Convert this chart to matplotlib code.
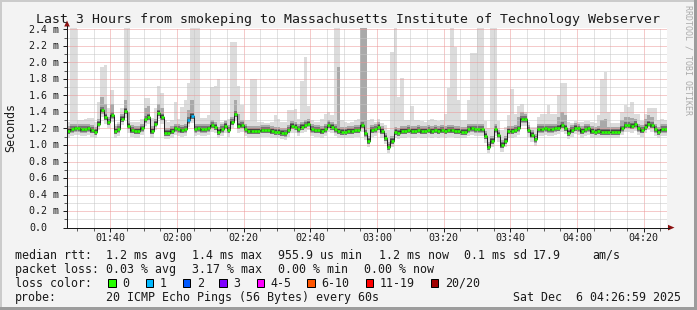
import numpy as np
import matplotlib
matplotlib.use("Agg")
import matplotlib.pyplot as plt
from matplotlib.patches import Rectangle, Polygon
from matplotlib.lines import Line2D
import matplotlib.transforms as mtransforms

# ---------------- data ----------------
title = "Last 3 Hours from smokeping to Massachusetts Institute of Technology Webserver"
start_time = "01:27"          # time at the left edge of the graph (one step = 1 minute)
time_labels = ["01:40", "02:00", "02:20", "02:40", "03:00", "03:20", "03:40", "04:00", "04:20"]
y_ticks = [0.0, 0.2, 0.4, 0.6, 0.8, 1.0, 1.2, 1.4, 1.6, 1.8, 2.0, 2.2, 2.4]
y_tick_labels = ["0.0", "0.2 m", "0.4 m", "0.6 m", "0.8 m", "1.0 m", "1.2 m",
                 "1.4 m", "1.6 m", "1.8 m", "2.0 m", "2.2 m", "2.4 m"]

# median rtt per minute (ms)
median = [
    1.17, 1.19, 1.20, 1.20, 1.19, 1.19, 1.20, 1.18, 1.16, 1.26,
    1.42, 1.34, 1.28, 1.36, 1.17, 1.19, 1.32, 1.41, 1.23, 1.18,
    1.17, 1.17, 1.20, 1.31, 1.34, 1.17, 1.26, 1.39, 1.34, 1.15,
    1.15, 1.17, 1.20, 1.19, 1.18, 1.19, 1.30, 1.35, 1.19, 1.20,
    1.19, 1.19, 1.20, 1.24, 1.22, 1.16, 1.19, 1.23, 1.18, 1.28,
    1.38, 1.23, 1.24, 1.19, 1.17, 1.17, 1.17, 1.17, 1.18, 1.18,
    1.18, 1.17, 1.16, 1.16, 1.15, 1.14, 1.18, 1.23, 1.22, 1.19,
    1.22, 1.24, 1.26, 1.19, 1.18, 1.18, 1.17, 1.19, 1.24, 1.22,
    1.19, 1.17, 1.16, 1.16, 1.17, 1.17, 1.18, 1.18, 1.24, 1.14,
    1.05, 1.18, 1.19, 1.22, 1.17, 1.09, 0.98, 1.05, 1.16, 1.15,
    1.17, 1.17, 1.18, 1.17, 1.17, 1.18, 1.17, 1.17, 1.18, 1.17,
    1.18, 1.17, 1.18, 1.17, 1.18, 1.18, 1.17, 1.17, 1.16, 1.16,
    1.19, 1.20, 1.19, 1.19, 1.19, 1.11, 0.98, 1.05, 1.19, 1.12,
    1.00, 1.05, 1.17, 1.17, 1.18, 1.20, 1.31, 1.31, 1.18, 1.12,
    1.07, 1.19, 1.19, 1.20, 1.19, 1.19, 1.20, 1.21, 1.24, 1.21,
    1.15, 1.18, 1.21, 1.20, 1.17, 1.19, 1.20, 1.17, 1.16, 1.17,
    1.16, 1.16, 1.16, 1.16, 1.16, 1.16, 1.20, 1.24, 1.24, 1.23,
    1.25, 1.20, 1.18, 1.22, 1.26, 1.24, 1.19, 1.16, 1.19, 1.19,
]
# highest ping per minute (ms); 2.5 = beyond the top of the graph
ping_max = [
    1.28, 2.50, 2.50, 1.30, 1.30, 1.31, 1.33, 1.33, 1.28, 1.52,
    1.95, 1.97, 1.45, 1.66, 1.26, 1.28, 1.45, 2.50, 2.50, 1.28,
    1.28, 1.28, 1.32, 1.57, 1.57, 1.33, 1.45, 1.71, 1.63, 1.30,
    1.28, 1.30, 1.52, 1.32, 1.46, 1.55, 1.75, 2.50, 2.50, 2.50,
    1.33, 1.33, 1.36, 1.70, 1.72, 1.80, 1.28, 1.30, 1.32, 2.25,
    2.25, 1.71, 1.48, 1.30, 1.30, 1.80, 1.80, 1.28, 1.28, 1.27,
    1.27, 1.28, 1.36, 1.32, 1.28, 1.28, 1.42, 1.42, 1.44, 1.32,
    1.78, 2.07, 1.47, 1.30, 1.28, 1.28, 1.32, 1.38, 1.40, 1.36,
    2.50, 2.50, 1.30, 1.28, 1.27, 1.28, 1.30, 1.32, 2.50, 2.50,
    1.30, 1.31, 1.28, 1.31, 1.27, 1.24, 1.18, 2.12, 2.50, 1.58,
    1.81, 1.30, 1.30, 1.47, 1.30, 1.30, 1.29, 1.28, 1.30, 1.31,
    1.30, 1.29, 1.30, 1.38, 1.69, 2.50, 2.19, 1.55, 1.30, 1.30,
    1.54, 2.11, 2.11, 2.50, 2.50, 1.29, 1.20, 2.50, 2.50, 1.29,
    1.18, 1.22, 1.36, 1.68, 1.38, 1.47, 1.50, 1.40, 1.28, 1.22,
    1.22, 1.34, 1.38, 1.38, 1.48, 1.38, 1.38, 1.61, 1.75, 1.75,
    1.28, 1.27, 1.29, 1.28, 1.28, 1.29, 1.29, 1.28, 1.27, 1.36,
    1.80, 1.88, 1.40, 1.27, 1.27, 1.27, 1.40, 1.48, 1.46, 1.52,
    1.38, 1.38, 1.29, 1.38, 1.45, 1.45, 1.45, 1.30, 1.31, 1.30,
]
# upper part of the denser smoke (ms)
ping_q3 = [
    1.23, 1.25, 1.26, 1.26, 1.25, 1.25, 1.26, 1.24, 1.22, 1.32,
    1.58, 1.50, 1.34, 1.50, 1.23, 1.25, 1.38, 1.55, 1.40, 1.24,
    1.23, 1.23, 1.26, 1.45, 1.47, 1.23, 1.32, 1.50, 1.45, 1.21,
    1.21, 1.23, 1.26, 1.25, 1.24, 1.25, 1.42, 1.55, 1.25, 1.26,
    1.25, 1.25, 1.26, 1.30, 1.28, 1.22, 1.25, 1.29, 1.24, 1.34,
    1.55, 1.38, 1.30, 1.25, 1.23, 1.23, 1.23, 1.23, 1.24, 1.24,
    1.24, 1.23, 1.22, 1.22, 1.21, 1.20, 1.24, 1.29, 1.28, 1.25,
    1.28, 1.30, 1.32, 1.25, 1.24, 1.24, 1.23, 1.25, 1.30, 1.28,
    1.25, 1.95, 1.22, 1.22, 1.23, 1.23, 1.24, 1.24, 2.50, 2.50,
    1.11, 1.24, 1.25, 1.28, 1.23, 1.15, 1.04, 1.11, 1.22, 1.21,
    1.23, 1.23, 1.24, 1.23, 1.23, 1.24, 1.23, 1.23, 1.24, 1.23,
    1.24, 1.23, 1.24, 1.23, 1.24, 1.24, 1.23, 1.23, 1.22, 1.22,
    1.25, 1.26, 1.25, 1.25, 1.25, 1.17, 1.04, 1.11, 1.25, 1.18,
    1.06, 1.11, 1.23, 1.23, 1.24, 1.34, 1.40, 1.38, 1.24, 1.18,
    1.13, 1.25, 1.25, 1.26, 1.25, 1.25, 1.26, 1.34, 1.40, 1.36,
    1.21, 1.24, 1.27, 1.26, 1.23, 1.25, 1.26, 1.23, 1.22, 1.23,
    1.30, 1.32, 1.22, 1.22, 1.22, 1.22, 1.30, 1.34, 1.34, 1.33,
    1.31, 1.26, 1.24, 1.32, 1.36, 1.34, 1.25, 1.22, 1.25, 1.25,
]
# lower part of the denser smoke (ms)
ping_q1 = [
    1.13, 1.15, 1.16, 1.16, 1.15, 1.15, 1.16, 1.14, 1.12, 1.22,
    1.38, 1.30, 1.24, 1.32, 1.13, 1.15, 1.28, 1.37, 1.19, 1.14,
    1.13, 1.13, 1.16, 1.27, 1.30, 1.13, 1.22, 1.35, 1.30, 1.11,
    1.11, 1.13, 1.16, 1.15, 1.14, 1.15, 1.26, 1.31, 1.15, 1.16,
    1.15, 1.15, 1.16, 1.20, 1.18, 1.12, 1.15, 1.19, 1.14, 1.24,
    1.34, 1.19, 1.20, 1.15, 1.13, 1.13, 1.13, 1.13, 1.14, 1.14,
    1.14, 1.13, 1.12, 1.12, 1.11, 1.10, 1.14, 1.19, 1.18, 1.15,
    1.18, 1.20, 1.22, 1.15, 1.14, 1.14, 1.13, 1.15, 1.20, 1.18,
    1.15, 1.13, 1.12, 1.12, 1.13, 1.13, 1.14, 1.14, 1.20, 1.10,
    1.01, 1.14, 1.15, 1.18, 1.13, 1.05, 0.94, 1.01, 1.12, 1.11,
    1.13, 1.13, 1.14, 1.13, 1.13, 1.14, 1.13, 1.13, 1.14, 1.13,
    1.14, 1.13, 1.14, 1.13, 1.14, 1.14, 1.13, 1.13, 1.12, 1.12,
    1.15, 1.16, 1.15, 1.15, 1.15, 1.07, 0.94, 1.01, 1.15, 1.08,
    0.96, 1.01, 1.13, 1.13, 1.14, 1.16, 1.27, 1.27, 1.14, 1.08,
    1.03, 1.15, 1.15, 1.16, 1.15, 1.15, 1.16, 1.17, 1.20, 1.17,
    1.11, 1.14, 1.17, 1.16, 1.13, 1.15, 1.16, 1.13, 1.12, 1.13,
    1.12, 1.12, 1.12, 1.12, 1.12, 1.12, 1.16, 1.20, 1.20, 1.19,
    1.21, 1.16, 1.14, 1.18, 1.22, 1.20, 1.15, 1.12, 1.15, 1.15,
]
# lowest ping per minute (ms)
ping_min = [
    1.09, 1.11, 1.12, 1.12, 1.11, 1.11, 1.12, 1.10, 1.08, 1.18,
    1.34, 1.26, 1.20, 1.28, 1.09, 1.11, 1.24, 1.33, 1.15, 1.10,
    1.09, 1.09, 1.12, 1.23, 1.26, 1.09, 1.18, 1.31, 1.26, 1.07,
    1.07, 1.09, 1.12, 1.11, 1.10, 1.11, 1.22, 1.27, 1.11, 1.12,
    1.11, 1.11, 1.12, 1.16, 1.14, 1.08, 1.11, 1.15, 1.10, 1.20,
    1.30, 1.15, 1.16, 1.11, 1.09, 1.09, 1.09, 1.09, 1.10, 1.10,
    1.10, 1.09, 1.08, 1.08, 1.07, 1.06, 1.10, 1.15, 1.14, 1.11,
    1.14, 1.16, 1.18, 1.11, 1.10, 1.10, 1.09, 1.11, 1.16, 1.14,
    1.11, 1.09, 1.08, 1.08, 1.09, 1.09, 1.10, 1.10, 1.16, 1.06,
    0.97, 1.10, 1.11, 1.14, 1.09, 1.01, 0.90, 0.97, 1.08, 1.07,
    1.09, 1.09, 1.10, 1.09, 1.09, 1.10, 1.09, 1.09, 1.10, 1.09,
    1.10, 1.09, 1.10, 1.09, 1.10, 1.10, 1.09, 1.09, 1.08, 1.08,
    1.11, 1.12, 1.11, 1.11, 1.11, 1.03, 0.90, 0.97, 1.11, 1.04,
    0.92, 0.97, 1.09, 1.09, 1.10, 1.12, 1.23, 1.23, 1.10, 1.04,
    0.99, 1.11, 1.11, 1.12, 1.11, 1.11, 1.12, 1.13, 1.16, 1.13,
    1.07, 1.10, 1.13, 1.12, 1.09, 1.11, 1.12, 1.09, 1.08, 1.09,
    1.08, 1.08, 1.08, 1.08, 1.08, 1.08, 1.12, 1.16, 1.16, 1.15,
    1.17, 1.12, 1.10, 1.14, 1.18, 1.16, 1.11, 1.08, 1.11, 1.11,
]
# minutes with packet loss and their loss-colour index
lossy_minutes = [36, 37]
lossy_levels = [1, 1]

loss_legend = ["0", "1", "2", "3", "4-5", "6-10", "11-19", "20/20"]
loss_colors = ["#26ff00", "#00b8ff", "#0059ff", "#7e00ff", "#ff00ff", "#ff5500", "#ff0000", "#a00000"]

row_median = [("median rtt:", 15.3), ("1.2 ms avg", 106.5), ("1.4 ms max", 192.5),
              ("955.9 us min", 278.5), ("1.2 ms now", 378.5), ("0.1 ms sd", 464.5),
              ("17.9", 532.3), ("am/s", 592.5)]
row_loss = [("packet loss:", 15.3), ("0.03 % avg", 106.5), ("3.17 % max", 192.5),
            ("0.00 % min", 278.5), ("0.00 % now", 364.5)]
row_probe = [("probe:", 15.3), ("20 ICMP Echo Pings (56 Bytes) every 60s", 106.5)]
date_text = "Sat Dec  6 04:26:59 2025"
credit = "RRDTOOL / TOBI OETIKER"
ylabel = "Seconds"

# ---------------- layout / style ----------------
W, H, DPI = 697, 310, 100
MONO = "DejaVu Sans Mono"
plt.rcParams["font.family"] = [MONO, "DejaVu Sans"]

def fx(x):
    return x / W

def fy(y):
    return 1 - y / H

def pt(px):
    return px * 72.0 / DPI

fig = plt.figure(figsize=(W / DPI, H / DPI), dpi=DPI, facecolor="#f3f3f3")

# 3-D style frame
fig.add_artist(Rectangle((0, 0), fx(2), 1, transform=fig.transFigure, color="#cbcbcb", lw=0))
fig.add_artist(Rectangle((0, fy(2)), 1, 2 / H, transform=fig.transFigure, color="#cbcbcb", lw=0))
fig.add_artist(Rectangle((fx(W - 3), 0), 3 / W, 1, transform=fig.transFigure, color="#9c9c9c", lw=0))
fig.add_artist(Rectangle((0, 0), 1, 3 / H, transform=fig.transFigure, color="#9c9c9c", lw=0))

x0_px, x1_px = 67.0, 667.0
y0_px, y1_px = 227.6, 28.4
px_per_ms = 82.6
ax = fig.add_axes([fx(x0_px), fy(y0_px), (x1_px - x0_px) / W, (y0_px - y1_px) / H])
ax.set_facecolor("white")

n = len(median)
edges = np.arange(n + 1)

def ext(a):
    a = np.asarray(a, dtype=float)
    return np.append(a, a[-1])

med = np.asarray(median)

# smoke (drawn below the grid, as rrdtool does)
ax.fill_between(edges, ext(ping_min), ext(ping_max), step="post", color="#dcdcdc", lw=0, zorder=1.0,
                antialiased=False)
ax.fill_between(edges, ext(ping_q1), ext(ping_q3), step="post", color="#a9a9a9", lw=0, zorder=1.1,
                antialiased=False)
CORE1, CORE2 = 0.036, 0.020
ax.fill_between(edges, ext(med - CORE1), ext(med + CORE1), step="post", color="#747474", lw=0, zorder=1.2,
                antialiased=False)
ax.fill_between(edges, ext(med - CORE2), ext(med + CORE2), step="post", color="#454545", lw=0, zorder=1.3,
                antialiased=False)

# median line and loss-coloured median
ax.step(edges, ext(median), where="post", color="#202020", lw=pt(1.0), zorder=2.0)
seg_colors = [loss_colors[0]] * n
for m_, lv in zip(lossy_minutes, lossy_levels):
    seg_colors[m_] = loss_colors[lv]
ax.hlines(median, edges[:-1] + 0.1, edges[1:], colors=seg_colors, lw=pt(2.6), zorder=2.1, capstyle="butt")

# scales
ax.set_xlim(0, n)
ax.set_ylim(0, (y0_px - y1_px) / px_per_ms)

sh, sm = map(int, start_time.split(":"))
def tmin(lbl):
    h, m = map(int, lbl.split(":"))
    return h * 60 + m - (sh * 60 + sm)

major_x = [tmin(l) for l in time_labels]
minor_x = [t for t in range(major_x[0] % 5, n + 1, 5)]
ax.set_xticks(major_x)
ax.set_xticks(minor_x, minor=True)
ax.set_yticks(y_ticks)
ax.set_yticks([round(v + 0.1, 2) for v in y_ticks[:-1]], minor=True)
ax.set_xticklabels([])
ax.set_yticklabels([])
ax.tick_params(axis="both", which="major", direction="out", length=3, width=pt(1), color="#202020")
ax.tick_params(axis="both", which="minor", direction="out", length=2, width=pt(1), color="#606060")

ax.set_axisbelow("line")   # grid above the smoke, below the median line
ax.grid(which="minor", color="#c6c6c6", linestyle=(0, (1, 1)), lw=pt(1))
ax.grid(which="major", color="#ec9696", linestyle=(0, (1, 1)), lw=pt(1))

for s in ("top", "right"):
    ax.spines[s].set_visible(False)
for s in ("left", "bottom"):
    ax.spines[s].set_color("#1a1a1a")
    ax.spines[s].set_linewidth(pt(1))
    ax.spines[s].set_zorder(7)

# tick labels
tick_fs = pt(10.0)
ytr = ax.get_yaxis_transform() + mtransforms.ScaledTranslation(0, -3.4 / DPI, fig.dpi_scale_trans)
for v, lab in zip(y_ticks, y_tick_labels):
    ax.text((29.3 - x0_px) / (x1_px - x0_px), v, lab, transform=ytr, ha="left", va="baseline",
            fontsize=tick_fs, color="#1a1a1a", family=MONO, clip_on=False)
xtr = ax.get_xaxis_transform() + mtransforms.ScaledTranslation(0, -(240.8 - y0_px) / DPI, fig.dpi_scale_trans)
for t, lab in zip(major_x, time_labels):
    ax.text(t, 0, lab, transform=xtr, ha="center", va="baseline", fontsize=tick_fs,
            color="#1a1a1a", family=MONO, clip_on=False)

# axis arrows
fig.add_artist(Line2D([fx(x1_px), fx(669)], [fy(y0_px), fy(y0_px)], transform=fig.transFigure,
                      color="#1a1a1a", lw=pt(1)))
fig.add_artist(Polygon([(fx(668), fy(224.8)), (fx(668), fy(230.4)), (fx(674.5), fy(y0_px))],
                       closed=True, transform=fig.transFigure, color="#8b1010", lw=0))
fig.add_artist(Line2D([fx(x0_px), fx(x0_px)], [fy(y1_px), fy(26)], transform=fig.transFigure,
                      color="#1a1a1a", lw=pt(1)))
fig.add_artist(Polygon([(fx(64.2), fy(26.5)), (fx(69.8), fy(26.5)), (fx(x0_px), fy(20.5))],
                       closed=True, transform=fig.transFigure, color="#8b1010", lw=0))

# title, labels
fig.text(fx(347.5), fy(23.0), title, ha="center", va="baseline", fontsize=pt(13.3),
         color="#1a1a1a", family=MONO)
fig.text(fx(10.8), fy(127.5), ylabel, rotation=90, ha="center", va="center",
         fontsize=pt(11.6), color="#1a1a1a", family=MONO)
fig.text(fx(687.7), fy(5), credit, rotation=270, ha="center", va="top",
         fontsize=pt(8.3), color="#aaaaaa", family=MONO)

leg_fs = pt(11.6)
base = [258.9, 272.9, 286.8, 300.7]
for row, yb in ((row_median, base[0]), (row_loss, base[1]), (row_probe, base[3])):
    for s, xl in row:
        fig.text(fx(xl), fy(yb), s, ha="left", va="baseline", fontsize=leg_fs,
                 color="#1a1a1a", family=MONO)
fig.text(fx(15.3), fy(base[2]), "loss color:", ha="left", va="baseline", fontsize=leg_fs,
         color="#1a1a1a", family=MONO)
swatch_x = [108.3, 145.5, 182.5, 219.3, 256.5, 307.3, 365.7, 430.7]
for xs, lab, c in zip(swatch_x, loss_legend, loss_colors):
    fig.add_artist(Rectangle((fx(xs), fy(286.6)), 7.6 / W, 7.8 / H, transform=fig.transFigure,
                             facecolor=c, edgecolor="#000000", lw=pt(1)))
    fig.text(fx(xs + 14.2), fy(base[2]), lab, ha="left", va="baseline", fontsize=leg_fs,
             color="#1a1a1a", family=MONO)
fig.text(fx(680.8), fy(base[3]), date_text, ha="right", va="baseline", fontsize=leg_fs,
         color="#1a1a1a", family=MONO)

fig.savefig("out.png", dpi=DPI, facecolor=fig.get_facecolor())
